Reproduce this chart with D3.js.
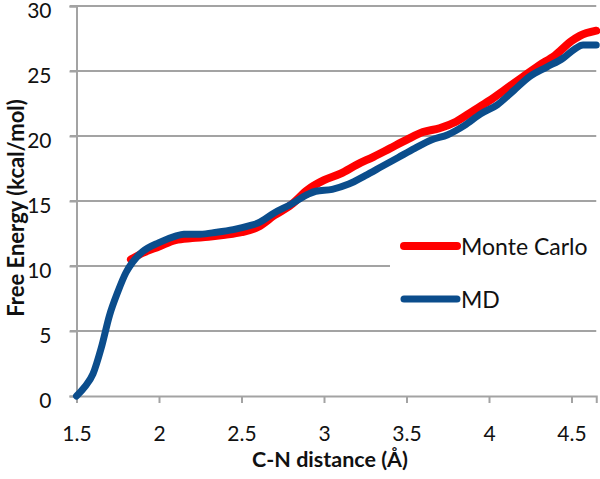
<!DOCTYPE html>
<html>
<head>
<meta charset="utf-8">
<script src="https://cdn.jsdelivr.net/npm/d3@7"></script>
<style>
  html, body { margin: 0; padding: 0; background: #fff; }
  svg { display: block; }
  text { font-family: Lato, "Open Sans", "Liberation Sans", sans-serif; fill: #111; }
</style>
</head>
<body>
<svg id="chart" width="600" height="479"></svg>
<script>
// ---- data ----
const mdX = [1.50,1.55,1.60,1.65,1.70,1.75,1.80,1.84,1.90,2.00,2.10,2.15,2.25,2.35,2.45,2.55,2.60,2.70,2.80,2.90,2.95,3.05,3.15,3.25,3.35,3.45,3.55,3.65,3.75,3.85,3.95,4.05,4.15,4.25,4.35,4.45,4.52,4.57,4.65];
const mdY = [0.0,0.7,1.7,3.7,6.2,8.0,9.5,10.3,11.1,11.8,12.3,12.45,12.45,12.6,12.8,13.1,13.3,14.1,14.75,15.5,15.75,15.9,16.3,16.95,17.65,18.35,19.05,19.7,20.1,20.8,21.7,22.4,23.5,24.6,25.3,26.0,26.7,27.0,27.0];
const mcX = [1.83,1.90,2.00,2.10,2.20,2.30,2.40,2.50,2.60,2.70,2.80,2.90,3.00,3.10,3.20,3.30,3.40,3.50,3.60,3.70,3.80,3.90,4.00,4.10,4.20,4.30,4.40,4.50,4.55,4.65];
const mcY = [10.5,11.0,11.5,12.0,12.15,12.25,12.4,12.6,13.0,13.9,14.7,15.85,16.6,17.1,17.8,18.4,19.05,19.7,20.3,20.6,21.1,21.9,22.7,23.6,24.5,25.4,26.2,27.3,27.7,28.1];
const xTicks = [1.5,2,2.5,3,3.5,4,4.5];
const yTicks = [0,5,10,15,20,25,30];
const seriesNames = ["Monte Carlo","MD"];
const seriesColors = ["#ff0000","#0b4d8c"];

// ---- chart ----
const svg = d3.select("#chart");
const x = d3.scaleLinear().domain([1.5, 4.65]).range([76.5, 596.25]);
const y = d3.scaleLinear().domain([0, 30]).range([396, 6]);
const gridColor = "#a3a3a3";
const fontFam = "Lato, 'Open Sans', sans-serif";

// horizontal gridlines
svg.append("g").selectAll("line").data(yTicks.filter(d => d > 0)).join("line")
  .attr("x1", 70).attr("x2", x.range()[1])
  .attr("y1", d => y(d)).attr("y2", d => y(d))
  .attr("stroke", gridColor).attr("stroke-width", 2);

// y axis
const yAxis = svg.append("g").attr("transform", `translate(${x(1.5)},0)`)
  .call(d3.axisLeft(y).tickValues(yTicks).tickSize(7).tickPadding(18).tickFormat(d3.format("d")));
yAxis.select(".domain").attr("stroke", gridColor).attr("stroke-width", 2);
yAxis.selectAll(".tick line").attr("stroke", gridColor).attr("stroke-width", 2);
yAxis.selectAll("text").attr("font-size", 21).style("font-family", fontFam).attr("fill", "#111")
  .attr("y", 5);

// x axis
const xAxis = svg.append("g").attr("transform", `translate(0,${y(0)})`)
  .call(d3.axisBottom(x).tickValues(xTicks).tickSize(7).tickPadding(23).tickFormat(d => String(d)));
xAxis.select(".domain").attr("stroke", gridColor).attr("stroke-width", 2);
xAxis.selectAll(".tick line").attr("stroke", gridColor).attr("stroke-width", 2);
xAxis.selectAll("text").attr("font-size", 21).style("font-family", fontFam).attr("fill", "#111");

// axis titles
svg.append("text").attr("x", 330).attr("y", 467).attr("text-anchor", "middle")
  .attr("font-size", 21.5).attr("font-weight", "bold").text("C-N distance (Å)");
svg.append("text").attr("transform", "translate(24,208) rotate(-90)").attr("text-anchor", "middle")
  .attr("font-size", 22).attr("font-weight", "bold").text("Free Energy (kcal/mol)");

// lines
const line = d3.line().x(d => x(d[0])).y(d => y(d[1])).curve(d3.curveMonotoneX);
const mc = mcX.map((v, i) => [v, mcY[i]]);
const md = mdX.map((v, i) => [v, mdY[i]]);
svg.append("path").datum(mc).attr("d", line).attr("fill", "none")
  .attr("stroke", seriesColors[0]).attr("stroke-width", 8).attr("stroke-linejoin", "round").attr("stroke-linecap", "round");
svg.append("path").datum(md).attr("d", line).attr("fill", "none")
  .attr("stroke", seriesColors[1]).attr("stroke-width", 7).attr("stroke-linejoin", "round").attr("stroke-linecap", "round");

// legend
svg.append("rect").attr("x", 390).attr("y", 218).attr("width", 210).attr("height", 100).attr("fill", "#fff");
const leg = svg.append("g").selectAll("g").data(seriesNames).join("g")
  .attr("transform", (d, i) => `translate(0,${i === 0 ? 246 : 299})`);
leg.append("line").attr("x1", 404).attr("x2", 457).attr("y1", 0).attr("y2", 0)
  .attr("stroke", (d, i) => seriesColors[i]).attr("stroke-width", (d, i) => i === 0 ? 8 : 7)
  .attr("stroke-linecap", "round");
leg.append("text").attr("x", 461).attr("y", 9).attr("font-size", 23).text(d => d);
</script>
</body>
</html>
